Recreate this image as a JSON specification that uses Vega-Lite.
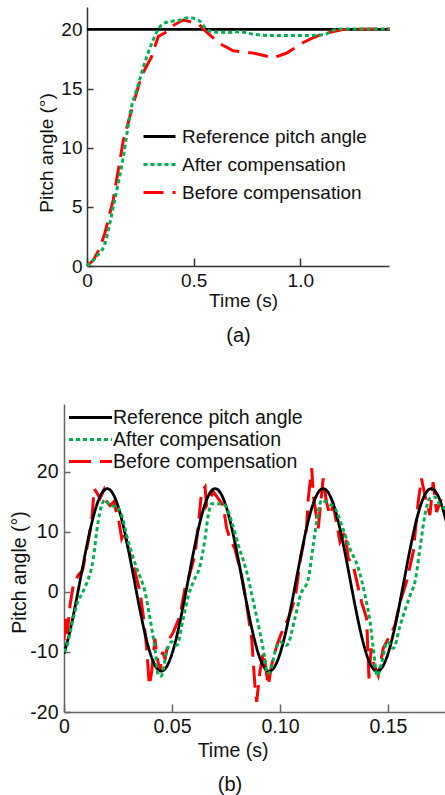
{
 "$schema": "https://vega.github.io/schema/vega-lite/v6.json",
 "padding": {"left": 9, "top": 7, "right": 0, "bottom": 0},
 "spacing": 58,
 "config": {
  "view": {"stroke": null},
  "font": "Liberation Sans",
  "axis": {"grid": false, "labelFont": "Liberation Sans", "titleFont": "Liberation Sans", "titleFontWeight": "normal", "labelColor": "#111111", "titleColor": "#111111", "labelOverlap": false},
  "title": {"font": "Liberation Sans", "fontWeight": "normal", "color": "#111111"},
  "legend": {"labelFont": "Liberation Sans", "labelColor": "#111111"}
 },
 "resolve": {
  "scale": {"x": "independent", "y": "independent", "color": "independent", "strokeDash": "independent"},
  "legend": {"color": "independent", "strokeDash": "independent"},
  "axis": {"x": "independent", "y": "independent"}
 },
 "datasets": {
  "aRef": [{"t": 0, "v": 20}, {"t": 1.42, "v": 20}],
  "aAfter": [
   {"t": 0, "v": 0}, {"t": 0.045, "v": 0.8}, {"t": 0.084, "v": 1.9}, {"t": 0.123, "v": 5.0}, {"t": 0.17, "v": 9.2},
   {"t": 0.209, "v": 13.5}, {"t": 0.233, "v": 14.9}, {"t": 0.264, "v": 16.8}, {"t": 0.303, "v": 18.8}, {"t": 0.334, "v": 20.0},
   {"t": 0.358, "v": 20.5}, {"t": 0.4, "v": 20.7}, {"t": 0.436, "v": 20.8}, {"t": 0.475, "v": 21.0}, {"t": 0.522, "v": 20.8},
   {"t": 0.561, "v": 20.0}, {"t": 0.592, "v": 19.8}, {"t": 0.65, "v": 19.75}, {"t": 0.717, "v": 19.8}, {"t": 0.78, "v": 19.6},
   {"t": 0.842, "v": 19.5}, {"t": 0.95, "v": 19.5}, {"t": 1.05, "v": 19.5}, {"t": 1.108, "v": 19.55}, {"t": 1.17, "v": 20.0},
   {"t": 1.25, "v": 20.05}, {"t": 1.42, "v": 20.05}
  ],
  "aBefore": [
   {"t": 0, "v": 0}, {"t": 0.03, "v": 0.5}, {"t": 0.06, "v": 1.5}, {"t": 0.084, "v": 2.8}, {"t": 0.123, "v": 5.6},
   {"t": 0.17, "v": 10.6}, {"t": 0.217, "v": 13.7}, {"t": 0.256, "v": 16.1}, {"t": 0.303, "v": 17.7}, {"t": 0.334, "v": 19.4},
   {"t": 0.373, "v": 19.8}, {"t": 0.41, "v": 20.4}, {"t": 0.451, "v": 20.8}, {"t": 0.522, "v": 20.5}, {"t": 0.545, "v": 20.05},
   {"t": 0.585, "v": 19.4}, {"t": 0.623, "v": 18.8}, {"t": 0.686, "v": 18.2}, {"t": 0.78, "v": 18.0}, {"t": 0.83, "v": 17.8},
   {"t": 0.873, "v": 17.6}, {"t": 0.936, "v": 18.0}, {"t": 0.98, "v": 18.5}, {"t": 1.014, "v": 18.9}, {"t": 1.06, "v": 19.3},
   {"t": 1.108, "v": 19.65}, {"t": 1.2, "v": 20.0}, {"t": 1.42, "v": 20.05}
  ],
  "bRef": [
   {"t": 0.0, "v": -10.3}, {"t": 0.0025, "v": -6.94}, {"t": 0.005, "v": -2.7}, {"t": 0.0075, "v": 2.0}, {"t": 0.01, "v": 6.7},
   {"t": 0.0125, "v": 10.94}, {"t": 0.015, "v": 14.3}, {"t": 0.0175, "v": 16.46}, {"t": 0.02, "v": 17.2}, {"t": 0.0225, "v": 16.46},
   {"t": 0.025, "v": 14.3}, {"t": 0.0275, "v": 10.94}, {"t": 0.03, "v": 6.7}, {"t": 0.0325, "v": 2.0}, {"t": 0.035, "v": -2.7},
   {"t": 0.0375, "v": -6.94}, {"t": 0.04, "v": -10.3}, {"t": 0.0425, "v": -12.46}, {"t": 0.045, "v": -13.2}, {"t": 0.0475, "v": -12.46},
   {"t": 0.05, "v": -10.3}, {"t": 0.0525, "v": -6.94}, {"t": 0.055, "v": -2.7}, {"t": 0.0575, "v": 2.0}, {"t": 0.06, "v": 6.7},
   {"t": 0.0625, "v": 10.94}, {"t": 0.065, "v": 14.3}, {"t": 0.0675, "v": 16.46}, {"t": 0.07, "v": 17.2}, {"t": 0.0725, "v": 16.46},
   {"t": 0.075, "v": 14.3}, {"t": 0.0775, "v": 10.94}, {"t": 0.08, "v": 6.7}, {"t": 0.0825, "v": 2.0}, {"t": 0.085, "v": -2.7},
   {"t": 0.0875, "v": -6.94}, {"t": 0.09, "v": -10.3}, {"t": 0.0925, "v": -12.46}, {"t": 0.095, "v": -13.2}, {"t": 0.0975, "v": -12.46},
   {"t": 0.1, "v": -10.3}, {"t": 0.1025, "v": -6.94}, {"t": 0.105, "v": -2.7}, {"t": 0.1075, "v": 2.0}, {"t": 0.11, "v": 6.7},
   {"t": 0.1125, "v": 10.94}, {"t": 0.115, "v": 14.3}, {"t": 0.1175, "v": 16.46}, {"t": 0.12, "v": 17.2}, {"t": 0.1225, "v": 16.46},
   {"t": 0.125, "v": 14.3}, {"t": 0.1275, "v": 10.94}, {"t": 0.13, "v": 6.7}, {"t": 0.1325, "v": 2.0}, {"t": 0.135, "v": -2.7},
   {"t": 0.1375, "v": -6.94}, {"t": 0.14, "v": -10.3}, {"t": 0.1425, "v": -12.46}, {"t": 0.145, "v": -13.2}, {"t": 0.1475, "v": -12.46},
   {"t": 0.15, "v": -10.3}, {"t": 0.1525, "v": -6.94}, {"t": 0.155, "v": -2.7}, {"t": 0.1575, "v": 2.0}, {"t": 0.16, "v": 6.7},
   {"t": 0.1625, "v": 10.94}, {"t": 0.165, "v": 14.3}, {"t": 0.1675, "v": 16.46}, {"t": 0.17, "v": 17.2}, {"t": 0.1725, "v": 16.46},
   {"t": 0.175, "v": 14.3}, {"t": 0.1775, "v": 10.94}
  ],
  "bAfter": [
   {"t": 0.0, "v": -10}, {"t": 0.0012, "v": -9.2}, {"t": 0.0028, "v": -6.8}, {"t": 0.0043, "v": -4.4}, {"t": 0.0065, "v": -1.5},
   {"t": 0.0082, "v": -0.4}, {"t": 0.01, "v": 1.0}, {"t": 0.0113, "v": 2.2}, {"t": 0.0136, "v": 5.6}, {"t": 0.0151, "v": 10},
   {"t": 0.017, "v": 13.9}, {"t": 0.019, "v": 15.3}, {"t": 0.0213, "v": 14.4}, {"t": 0.0244, "v": 14.2}, {"t": 0.0267, "v": 12.8},
   {"t": 0.029, "v": 9.4}, {"t": 0.0337, "v": 3.9}, {"t": 0.0375, "v": 0}, {"t": 0.0398, "v": -4.4}, {"t": 0.0421, "v": -9.4},
   {"t": 0.0437, "v": -13.9}, {"t": 0.045, "v": -14}, {"t": 0.0475, "v": -10}, {"t": 0.0499, "v": -8.3}, {"t": 0.0522, "v": -8.9},
   {"t": 0.0552, "v": -4.4}, {"t": 0.0576, "v": -0.6}, {"t": 0.0599, "v": 1.7}, {"t": 0.063, "v": 4.4}, {"t": 0.0653, "v": 8.9},
   {"t": 0.0668, "v": 12.8}, {"t": 0.0684, "v": 14.7}, {"t": 0.0714, "v": 14.7}, {"t": 0.0745, "v": 14.4}, {"t": 0.0776, "v": 11.7},
   {"t": 0.0807, "v": 7.8}, {"t": 0.0846, "v": 3.3}, {"t": 0.0877, "v": -1.7}, {"t": 0.0907, "v": -6.7}, {"t": 0.093, "v": -11.1},
   {"t": 0.0941, "v": -13.6}, {"t": 0.0954, "v": -13.3}, {"t": 0.0977, "v": -10}, {"t": 0.1, "v": -8.3}, {"t": 0.1031, "v": -8.9},
   {"t": 0.1069, "v": -4.4}, {"t": 0.1095, "v": -0.5}, {"t": 0.1131, "v": 2.2}, {"t": 0.1154, "v": 7.8}, {"t": 0.1177, "v": 13.3},
   {"t": 0.1193, "v": 15.3}, {"t": 0.1224, "v": 14.7}, {"t": 0.1255, "v": 13.9}, {"t": 0.1286, "v": 11.1}, {"t": 0.1324, "v": 7.2},
   {"t": 0.1363, "v": 3.9}, {"t": 0.1394, "v": -0.6}, {"t": 0.1417, "v": -5}, {"t": 0.1432, "v": -9.4}, {"t": 0.145, "v": -14},
   {"t": 0.1471, "v": -11.7}, {"t": 0.1497, "v": -8.3}, {"t": 0.1525, "v": -9.4}, {"t": 0.1556, "v": -5.6}, {"t": 0.1602, "v": -0.6},
   {"t": 0.1625, "v": 1.7}, {"t": 0.1648, "v": 7.2}, {"t": 0.1671, "v": 12.8}, {"t": 0.1694, "v": 15.6}, {"t": 0.1718, "v": 15.8},
   {"t": 0.1741, "v": 14.4}, {"t": 0.1764, "v": 13.9}, {"t": 0.178, "v": 13.5}
  ],
  "bBefore": [
   {"t": 0.0, "v": -8}, {"t": 0.0008, "v": -4.5}, {"t": 0.0015, "v": -7.0}, {"t": 0.0028, "v": -2.2}, {"t": 0.0043, "v": 1.1},
   {"t": 0.0066, "v": 2.8}, {"t": 0.0085, "v": 3.5}, {"t": 0.0097, "v": 5.6}, {"t": 0.0115, "v": 9}, {"t": 0.0128, "v": 11.7},
   {"t": 0.014, "v": 17.2}, {"t": 0.0152, "v": 16.5}, {"t": 0.0167, "v": 15.6}, {"t": 0.0185, "v": 17}, {"t": 0.0198, "v": 15},
   {"t": 0.0213, "v": 14.4}, {"t": 0.023, "v": 15}, {"t": 0.0252, "v": 12.2}, {"t": 0.0267, "v": 8.9}, {"t": 0.028, "v": 10},
   {"t": 0.0298, "v": 7.2}, {"t": 0.0329, "v": 3.3}, {"t": 0.0352, "v": 0}, {"t": 0.0367, "v": -4}, {"t": 0.0383, "v": -9.4},
   {"t": 0.0395, "v": -15.6}, {"t": 0.0406, "v": -13.3}, {"t": 0.0421, "v": -7.8}, {"t": 0.0432, "v": -11}, {"t": 0.0444, "v": -13.3},
   {"t": 0.0456, "v": -10}, {"t": 0.0468, "v": -11.1}, {"t": 0.0485, "v": -8}, {"t": 0.0506, "v": -6.7}, {"t": 0.0537, "v": -4},
   {"t": 0.056, "v": 0.6}, {"t": 0.0576, "v": 2.2}, {"t": 0.0606, "v": 6.1}, {"t": 0.0622, "v": 11.1}, {"t": 0.0637, "v": 16.7},
   {"t": 0.0653, "v": 17.5}, {"t": 0.066, "v": 14.4}, {"t": 0.0675, "v": 15.5}, {"t": 0.0691, "v": 16.7}, {"t": 0.0715, "v": 15.5},
   {"t": 0.0737, "v": 14.4}, {"t": 0.0753, "v": 10.6}, {"t": 0.0768, "v": 8.9}, {"t": 0.0791, "v": 7.2}, {"t": 0.0822, "v": 2.8},
   {"t": 0.0846, "v": -2.2}, {"t": 0.0869, "v": -7.8}, {"t": 0.0884, "v": -15.6}, {"t": 0.0892, "v": -18.3}, {"t": 0.0907, "v": -13.3},
   {"t": 0.0923, "v": -10}, {"t": 0.0946, "v": -15.6}, {"t": 0.0961, "v": -12.2}, {"t": 0.0985, "v": -8.9}, {"t": 0.1015, "v": -6.1},
   {"t": 0.1039, "v": -4.4}, {"t": 0.107, "v": -1.1}, {"t": 0.1095, "v": 5.5}, {"t": 0.1123, "v": 10.6}, {"t": 0.1131, "v": 15.6},
   {"t": 0.1147, "v": 20.6}, {"t": 0.1154, "v": 16.1}, {"t": 0.1177, "v": 10.6}, {"t": 0.12, "v": 18.9}, {"t": 0.1215, "v": 15},
   {"t": 0.1231, "v": 12.8}, {"t": 0.1247, "v": 14.4}, {"t": 0.1278, "v": 8.3}, {"t": 0.1301, "v": 10}, {"t": 0.1316, "v": 5.6},
   {"t": 0.1339, "v": 4.4}, {"t": 0.1363, "v": 0.6}, {"t": 0.1378, "v": -1.7}, {"t": 0.1401, "v": -4.4}, {"t": 0.1412, "v": -14.4},
   {"t": 0.1422, "v": -9.4}, {"t": 0.1432, "v": -11.7}, {"t": 0.1455, "v": -13.9}, {"t": 0.1478, "v": -9.4}, {"t": 0.1517, "v": -6.7},
   {"t": 0.1532, "v": -5.6}, {"t": 0.1556, "v": -1.7}, {"t": 0.1586, "v": 1.7}, {"t": 0.1617, "v": 6.7}, {"t": 0.164, "v": 15},
   {"t": 0.1655, "v": 18.9}, {"t": 0.1671, "v": 16.1}, {"t": 0.1694, "v": 12.8}, {"t": 0.1709, "v": 18.3}, {"t": 0.1725, "v": 13.3},
   {"t": 0.1748, "v": 15.6}, {"t": 0.1764, "v": 12.8}, {"t": 0.178, "v": 13.5}
  ]
 },
 "vconcat": [
  {
   "width": 325,
   "height": 259,
   "title": {"text": "(a)", "orient": "bottom", "frame": "group", "fontSize": 20, "offset": 16, "dx": 12},
   "encoding": {
    "x": {"field": "t", "type": "quantitative",
     "scale": {"domain": [0, 1.416], "range": [23, 325], "nice": false, "zero": false},
     "axis": {"values": [0, 0.5, 1.0], "labelExpr": "datum.value == 0 ? '0' : format(datum.value, '.1f')", "labelFlush": false,
      "tickSize": -8, "labelPadding": 13, "labelFontSize": 19, "title": "Time (s)", "titleFontSize": 19, "titlePadding": 1, "titleX": 179,
      "domainColor": "#333333", "tickColor": "#333333", "domainWidth": 1.5, "tickWidth": 1.5}},
    "y": {"field": "v", "type": "quantitative",
     "scale": {"domain": [0, 21.9], "nice": false, "zero": false},
     "axis": {"values": [0, 5, 10, 15, 20], "offset": -23, "tickSize": -6, "labelPadding": 11, "labelFontSize": 19,
      "title": "Pitch angle (°)", "titleFontSize": 19, "titlePadding": 4, "titleY": 145.5,
      "domainColor": "#333333", "tickColor": "#333333", "domainWidth": 1.5, "tickWidth": 1.5}}
   },
   "layer": [
    {"data": {"name": "aRef"}, "mark": {"type": "line", "strokeWidth": 2.8},
     "encoding": {
      "color": {"datum": "Reference pitch angle", "type": "nominal",
       "scale": {"domain": ["Reference pitch angle", "After compensation", "Before compensation"], "range": ["#000000", "#00b050", "#ff0000"]},
       "legend": {"title": null, "orient": "none", "legendX": 78, "legendY": 112, "symbolType": "stroke", "symbolSize": 1024, "symbolStrokeWidth": 3,
        "labelFontSize": 19, "labelOffset": 5, "rowPadding": -0.5, "padding": 0, "labelLimit": 400}},
      "strokeDash": {"datum": "Reference pitch angle", "type": "nominal",
       "scale": {"domain": ["Reference pitch angle", "After compensation", "Before compensation"], "range": [[1, 0], [4, 3], [20, 9]]},
       "legend": {"title": null, "orient": "none", "legendX": 78, "legendY": 112, "symbolType": "stroke", "symbolSize": 1024, "symbolStrokeWidth": 3,
        "labelFontSize": 19, "labelOffset": 5, "rowPadding": -0.5, "padding": 0, "labelLimit": 400}}
     }},
    {"data": {"name": "aBefore"}, "mark": {"type": "line", "strokeWidth": 3},
     "encoding": {"color": {"datum": "Before compensation", "type": "nominal"}, "strokeDash": {"datum": "Before compensation", "type": "nominal"}}},
    {"data": {"name": "aAfter"}, "mark": {"type": "line", "strokeWidth": 3, "interpolate": "monotone"},
     "encoding": {"color": {"datum": "After compensation", "type": "nominal"}, "strokeDash": {"datum": "After compensation", "type": "nominal"}}}
   ]
  },
  {
   "width": 381,
   "height": 308,
   "title": {"text": "(b)", "orient": "bottom", "frame": "group", "fontSize": 20, "offset": 15, "dx": -24.5},
   "encoding": {
    "x": {"field": "t", "type": "quantitative",
     "scale": {"domain": [0, 0.1764], "nice": false, "zero": false},
     "axis": {"values": [0, 0.05, 0.1, 0.15], "labelExpr": "datum.value == 0 ? '0' : format(datum.value, '.2f')", "labelFlush": false,
      "tickSize": -8, "labelPadding": 13.5, "labelFontSize": 19.5, "title": "Time (s)", "titleFontSize": 19.5, "titlePadding": 5, "titleX": 168.5,
      "domainColor": "#666666", "tickColor": "#666666", "domainWidth": 1.5, "tickWidth": 1.5}},
    "y": {"field": "v", "type": "quantitative",
     "scale": {"domain": [-20, 31.3], "nice": false, "zero": false},
     "axis": {"values": [-20, -10, 0, 10, 20], "labelExpr": "datum.value < 0 ? '-' + abs(datum.value) : '' + datum.value",
      "tickSize": -6, "labelPadding": 12, "labelFontSize": 19.5,
      "title": "Pitch angle (°)", "titleFontSize": 19.5, "titlePadding": 0, "titleY": 168,
      "domainColor": "#666666", "tickColor": "#666666", "domainWidth": 1.5, "tickWidth": 1.5}}
   },
   "layer": [
    {"data": {"name": "bBefore"}, "mark": {"type": "line", "strokeWidth": 3, "clip": true},
     "encoding": {
      "color": {"datum": "Before compensation", "type": "nominal",
       "scale": {"domain": ["Reference pitch angle", "After compensation", "Before compensation"], "range": ["#000000", "#00b050", "#ff0000"]},
       "legend": {"title": null, "orient": "none", "legendX": 14, "legendY": 1, "symbolType": "M-2,0H2", "symbolSize": 462, "symbolStrokeWidth": 3,
        "labelFontSize": 19.5, "labelOffset": 10, "rowPadding": 0, "padding": 0, "labelLimit": 400}},
      "strokeDash": {"datum": "Before compensation", "type": "nominal",
       "scale": {"domain": ["Reference pitch angle", "After compensation", "Before compensation"], "range": [[1, 0], [4, 3], [22, 9]]},
       "legend": {"title": null, "orient": "none", "legendX": 14, "legendY": 1, "symbolType": "M-2,0H2", "symbolSize": 462, "symbolStrokeWidth": 3,
        "labelFontSize": 19.5, "labelOffset": 10, "rowPadding": 0, "padding": 0, "labelLimit": 400}}
     }},
    {"data": {"name": "bRef"}, "mark": {"type": "line", "strokeWidth": 2.8, "interpolate": "monotone", "clip": true},
     "encoding": {"color": {"datum": "Reference pitch angle", "type": "nominal"}, "strokeDash": {"datum": "Reference pitch angle", "type": "nominal"}}},
    {"data": {"name": "bAfter"}, "mark": {"type": "line", "strokeWidth": 3, "interpolate": "monotone", "clip": true},
     "encoding": {"color": {"datum": "After compensation", "type": "nominal"}, "strokeDash": {"datum": "After compensation", "type": "nominal"}}}
   ]
  }
 ]
}
